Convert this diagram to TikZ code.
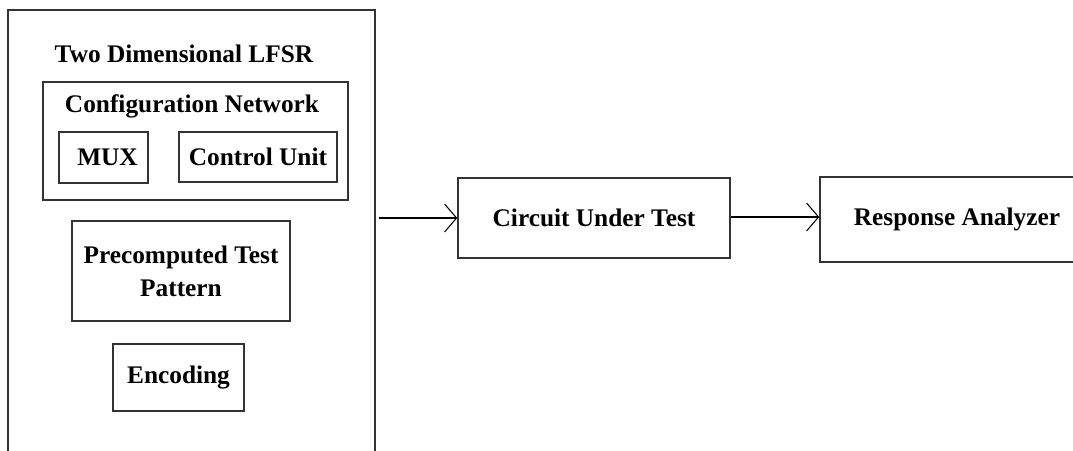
\documentclass[tikz,border=0pt]{standalone}
\usepackage{fontspec}
\setmainfont{Liberation Serif}
\usetikzlibrary{arrows.meta}

\tikzset{every picture/.style={line width=0.75pt}}
\tikzset{
  blockbox/.style={draw=black!80, line width=1.1pt, align=center, inner sep=0pt,
    font=\bfseries\fontsize{19}{25}\selectfont},
  titletext/.style={anchor=base, inner sep=0pt, font=\bfseries\fontsize{19}{25}\selectfont},
  flow/.style={-{Straight Barb[length=9pt,width=21pt]}, line width=0.8pt}
}

\begin{document}
\begin{tikzpicture}[x=0.75pt,y=0.75pt,yscale=-1,xscale=1]

\useasboundingbox (0,0) rectangle (1073,450);
\clip (0,0) rectangle (1073,450);

%Two dimensional LFSR (bottom runs off the page)
\node [blockbox, minimum width=275.25pt, minimum height=352.5pt] (lfsr) at (191.5,245) {};
\node [titletext] (lfsrtitle) at (184,62) {Two Dimensional LFSR};

%Configuration network
\node [blockbox, minimum width=228.75pt, minimum height=88.5pt] (config) at (195.5,141) {};
\node [titletext] (configtitle) at (192,112) {Configuration Network};
\node [blockbox, minimum width=66.75pt, minimum height=38.25pt] (mux) at (103.5,157.5) {\hspace*{6pt}MUX};
\node [blockbox, minimum width=118.5pt, minimum height=37.5pt] (ctrl) at (258,157) {Control Unit};

%Test pattern and encoding
\node [blockbox, minimum width=163.5pt, minimum height=75pt] (pattern) at (181,271) {Precomputed Test\\Pattern};
\node [blockbox, minimum width=98.25pt, minimum height=50.25pt] (enc) at (178.5,377.5) {Encoding};

%CUT and response analyzer (right side runs off the page)
\node [blockbox, minimum width=204pt, minimum height=60pt] (cut) at (594,218) {Circuit Under Test};
\node [blockbox, minimum width=205.5pt, minimum height=63.75pt] (ra) at (957,219.5) {Response Analyzer};

% Arrows
\draw [flow, shorten <=2.25pt] (lfsr.east |- cut.west) -- (cut.west);
\draw [flow] ([yshift=-0.75pt]cut.east) -- ([yshift=-0.75pt]cut.east -| ra.west);

\end{tikzpicture}
\end{document}
